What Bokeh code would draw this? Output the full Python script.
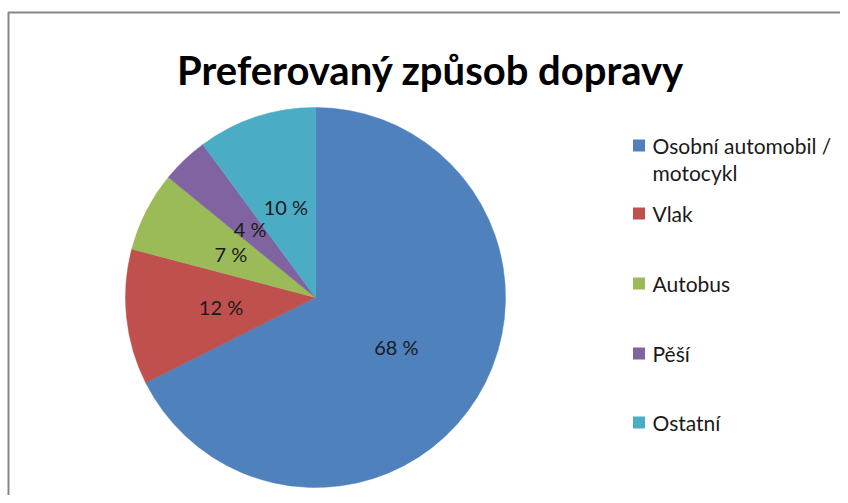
import math
from bokeh.plotting import figure
from bokeh.models import Range1d, ColumnDataSource
from bokeh.core.properties import value
from bokeh.embed import file_html
from bokeh.resources import INLINE

# ---- data ----
title = "Preferovaný způsob  dopravy"
categories = ["Osobní automobil / motocykl", "Vlak", "Autobus", "Pěší", "Ostatní"]
shares = [67.6, 11.5, 6.8, 4.0, 10.1]
labels = ["68 %", "12 %", "7 %", "4 %", "10 %"]
colors = ["#4F81BD", "#C0504D", "#9BBB59", "#8064A2", "#4BACC6"]

# ---- layout (1 data unit = 1 px; data y = Y0 - screen y) ----
W, H = 840, 495
X0, Y0 = 1, 496
cx, cy, r = 316, Y0 - 297, 190

p = figure(width=W, height=H, x_range=Range1d(X0, X0 + W), y_range=Range1d(Y0 - H, Y0),
           output_backend="svg", toolbar_location=None, min_border=0)
p.axis.visible = False
p.grid.visible = False
p.outline_line_color = None
p.background_fill_color = "white"
p.border_fill_color = "white"

# chart area border (top and left visible)
p.line(x=[9, 9, 900], y=[-50, Y0 - 12, Y0 - 12], line_color="#868686", line_width=2)

total = sum(shares)
starts, ends, mids = [], [], []
cum = 0.0
for s in shares:
    a0 = math.pi / 2 - 2 * math.pi * cum / total
    cum += s
    a1 = math.pi / 2 - 2 * math.pi * cum / total
    starts.append(a0)
    ends.append(a1)
    mids.append((a0 + a1) / 2)

src = ColumnDataSource(dict(start=starts, end=ends, color=colors, cat=categories))
p.wedge(x=cx, y=cy, radius=r, start_angle="start", end_angle="end", direction="clock",
        fill_color="color", line_color="color", line_width=0.5, source=src)

lx = [cx + 0.5 * r * math.cos(m) for m in mids]
ly = [cy + 0.5 * r * math.sin(m) for m in mids]
p.text(x=lx, y=ly, text=labels, text_align="center", text_baseline="middle",
       text_font=value("Lato"), text_font_size="20px", text_color="#1a1a1a")

# title
p.text(x=[436], y=[Y0 - 69], text=[title], text_align="center", text_baseline="alphabetic",
       text_font=value("Lato"), text_font_style="bold", text_font_size="40px", text_color="#000000")

# legend
leg_sq_x = 639.5
leg_tx = 653
row_y = [145, 213, 283, 353, 422]
line_gap = 27
tx, ty, tt = [], [], []
for cat, yy in zip(categories, row_y):
    if " / " in cat:
        a, b = cat.split(" / ", 1)
        lines = [a + " /", b]
    else:
        lines = [cat]
    for k, ln in enumerate(lines):
        tx.append(leg_tx)
        ty.append(Y0 - (yy + k * line_gap))
        tt.append(ln)
p.rect(x=[leg_sq_x] * len(categories), y=[Y0 - yy for yy in row_y], width=12, height=12,
       fill_color=colors, line_color=None)
p.text(x=tx, y=ty, text=tt, text_align="left", text_baseline="middle",
       text_font=value("Lato"), text_font_size="21px", text_color="#1a1a1a")

open("out.html", "w").write(file_html(p, INLINE))
